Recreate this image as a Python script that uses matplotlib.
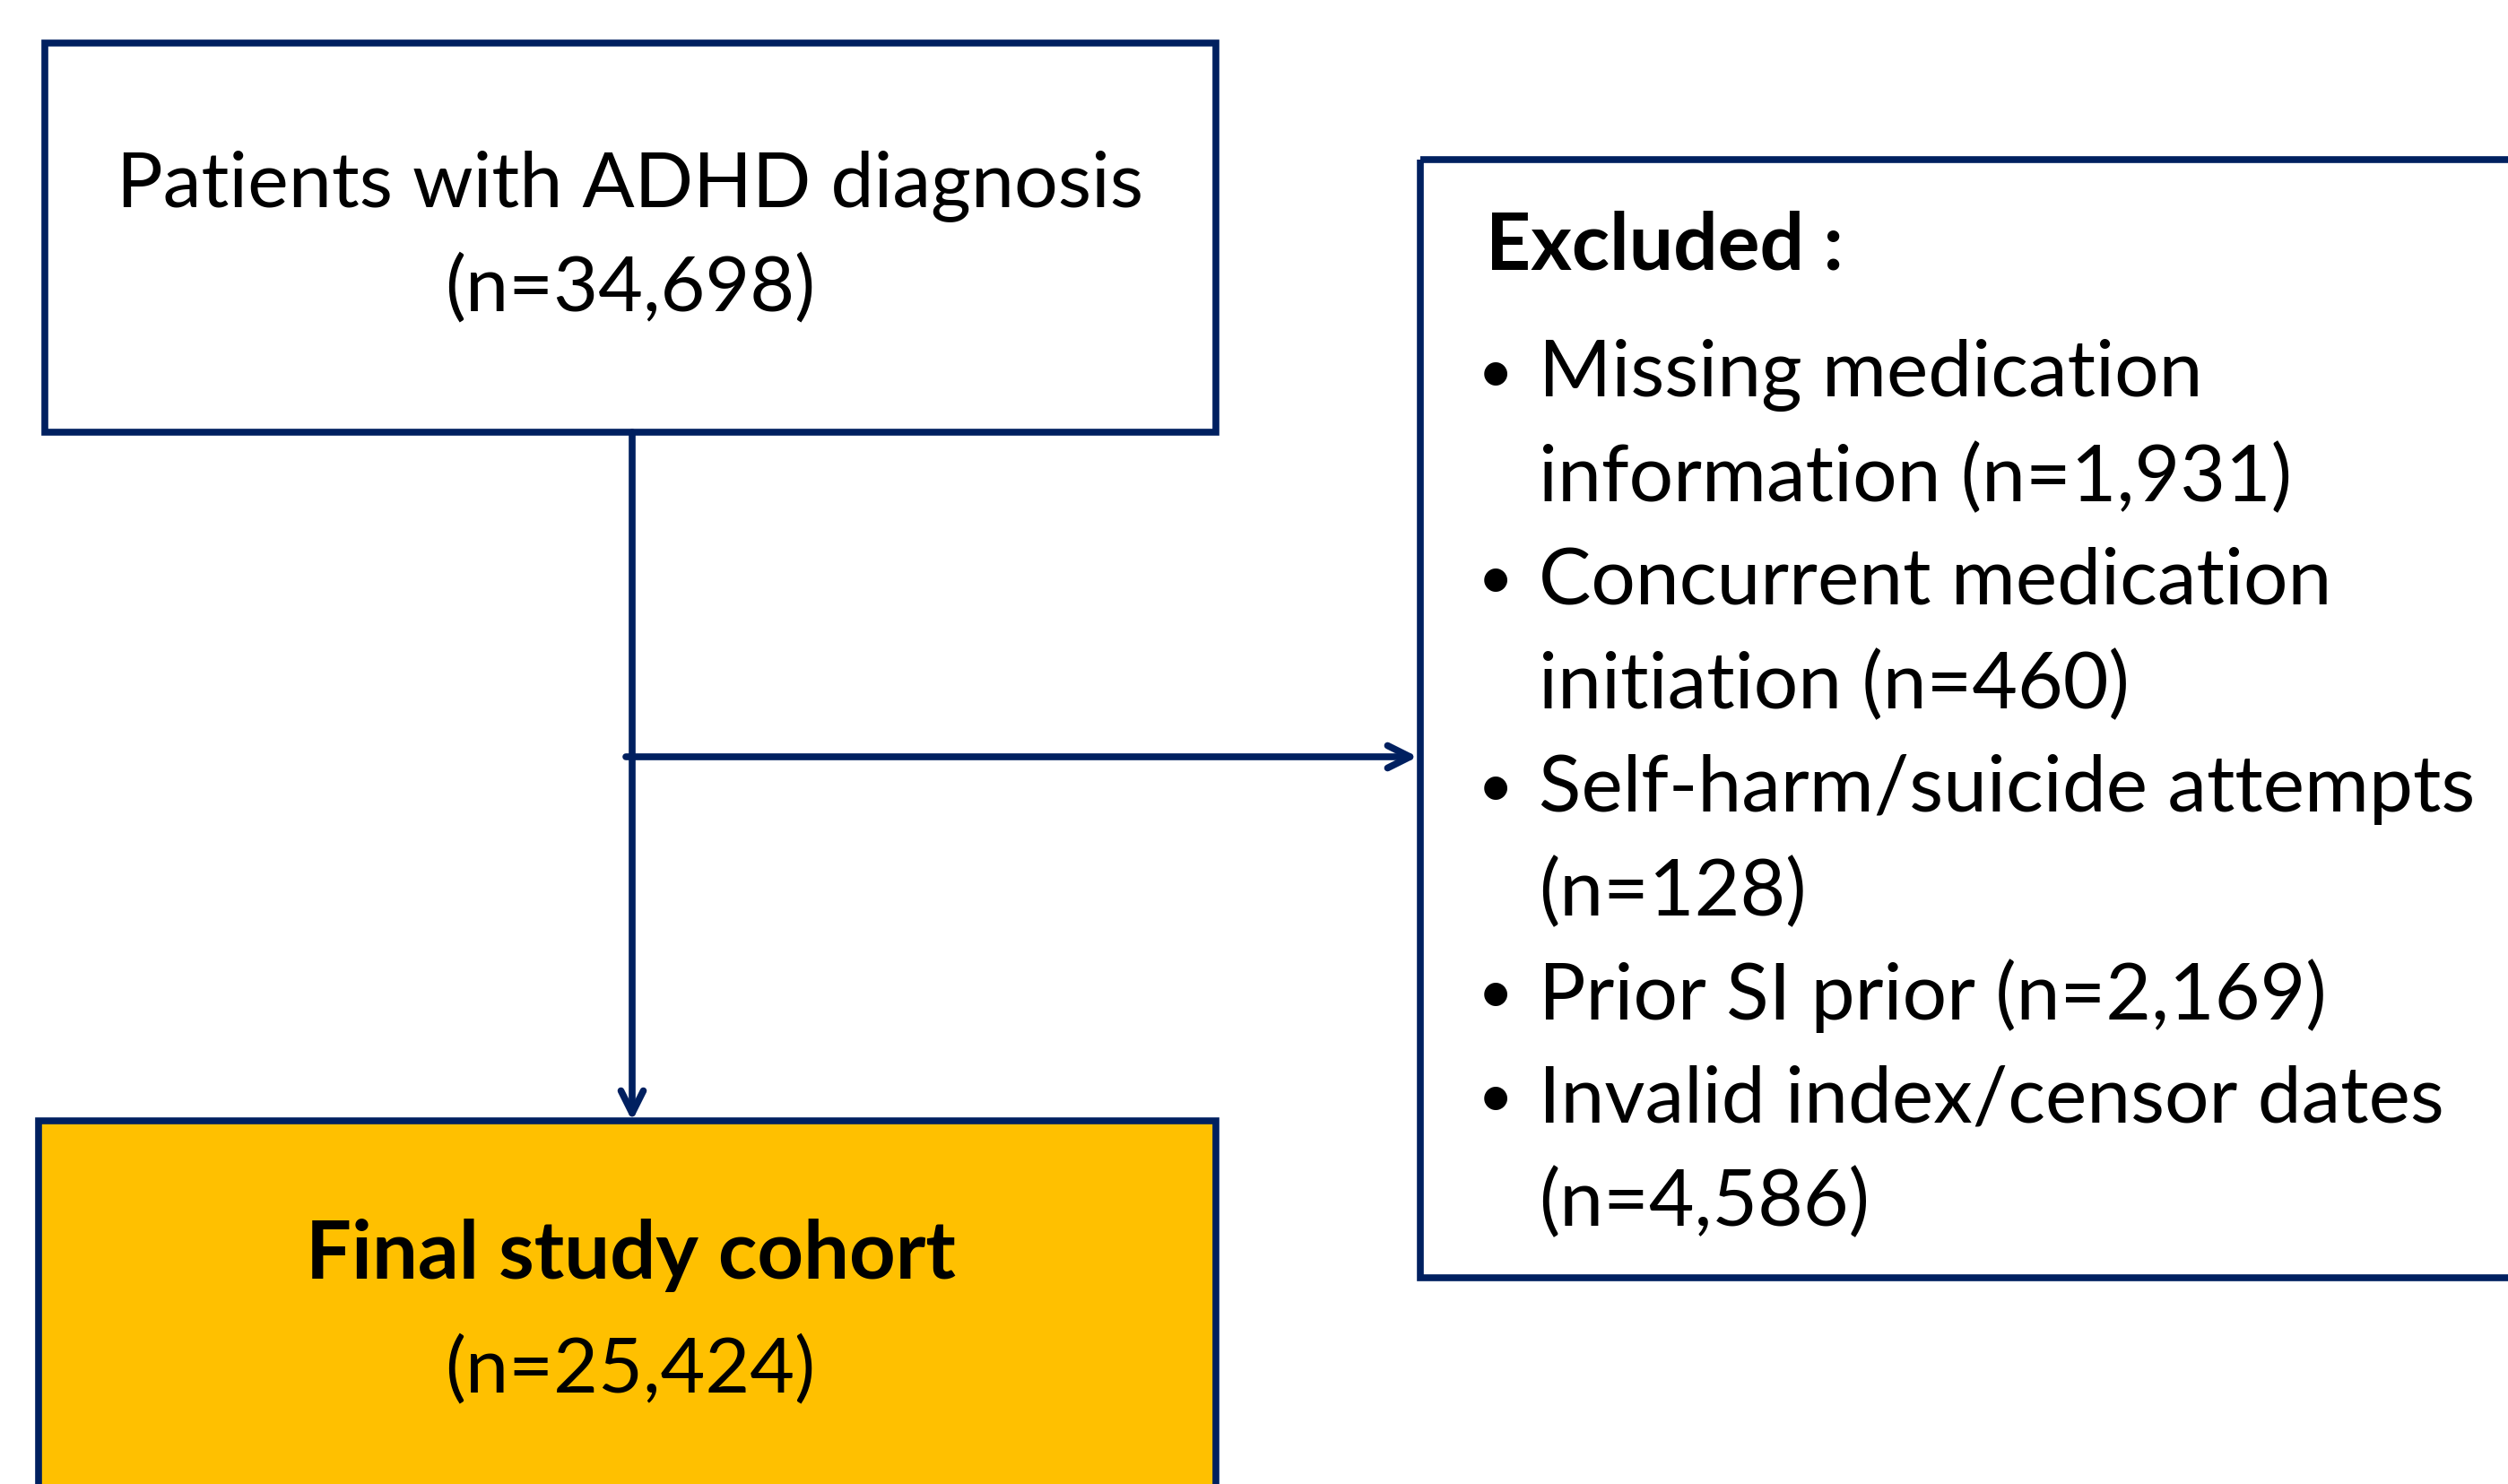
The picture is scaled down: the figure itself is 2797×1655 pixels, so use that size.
import matplotlib.pyplot as plt
from matplotlib.patches import Rectangle

# flowchart content
top_lines = ["Patients with ADHD diagnosis", "(n=34,698)"]
excl_title = "Excluded :"
excl_lines = ["Missing medication", "information (n=1,931)",
              "Concurrent medication", "initiation (n=460)",
              "Self-harm/suicide attempts", "(n=128)",
              "Prior SI prior (n=2,169)",
              "Invalid index/censor dates", "(n=4,586)"]
bullet_starts = [True, False, True, False, True, False, True, True, False]
final_lines = ["Final study cohort", "(n=25,424)"]

navy = "#002060"
gold = "#FFC000"
font = "Lato"

fig = plt.figure(figsize=(27.97, 16.55), dpi=100)
ax = fig.add_axes([0, 0, 1, 1])
ax.set_xlim(0, 2797)
ax.set_ylim(1655, 0)
ax.axis("off")

lw = 5.5
# boxes
ax.add_patch(Rectangle((50, 48), 1306, 434, fill=False, ec=navy, lw=lw))
ax.add_patch(Rectangle((1584, 178), 1300, 1247, fill=False, ec=navy, lw=lw))
ax.add_patch(Rectangle((43, 1250), 1313, 500, fc=gold, ec=navy, lw=lw))

# connectors
ax.annotate("", xy=(705, 1250), xytext=(705, 482),
            arrowprops=dict(arrowstyle="->", color=navy, lw=lw, mutation_scale=45,
                            shrinkA=0, shrinkB=0))
ax.annotate("", xy=(1581, 844), xytext=(698, 844),
            arrowprops=dict(arrowstyle="->", color=navy, lw=lw, mutation_scale=45,
                            shrinkA=0, shrinkB=0))

fs = 63
# top box text
ax.text(703, 207, top_lines[0], ha="center", va="center", fontsize=fs - 1, family=font)
ax.text(703, 322, top_lines[1], ha="center", va="center", fontsize=fs - 1, family=font)

# excluded box text
ax.text(1657, 275, excl_title, ha="left", va="center", fontsize=fs, family=font, weight="bold")
y0, dy = 418, 115.5
for i, (line, b) in enumerate(zip(excl_lines, bullet_starts)):
    y = y0 + i * dy
    if b:
        ax.text(1668, y, "\u2022", ha="center", va="center", fontsize=50, family=font)
    ax.text(1716, y, line, ha="left", va="center", fontsize=fs, family=font)

# final box text
ax.text(703, 1400, final_lines[0], ha="center", va="center", fontsize=fs + 2, family=font, weight="bold")
ax.text(703, 1528, final_lines[1], ha="center", va="center", fontsize=fs - 1, family=font)

fig.savefig("out.png", dpi=100)
